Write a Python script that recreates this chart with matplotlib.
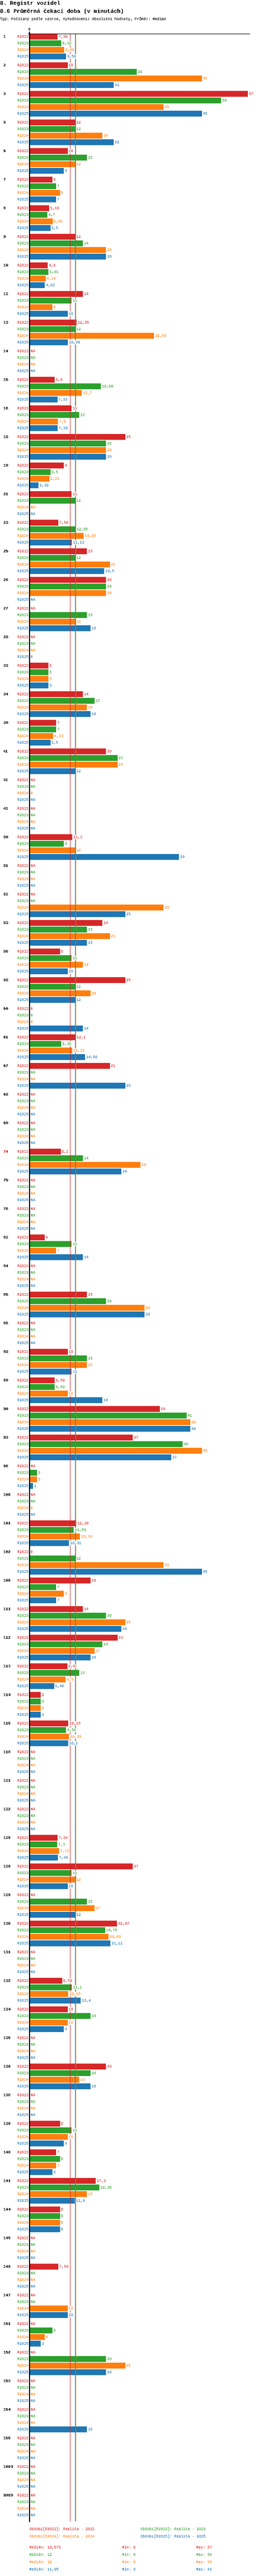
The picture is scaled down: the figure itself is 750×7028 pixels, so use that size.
import matplotlib
matplotlib.use("Agg")
import matplotlib.pyplot as plt
import numpy as np

plt.rcParams['font.family'] = ['Liberation Mono', 'DejaVu Sans Mono']
plt.rcParams['text.antialiased'] = False

NA = None

# Kategorie (skupiny)
kategorie = ["1", "2", "3", "5", "6", "7", "8", "9", "10", "12",
             "13", "14", "15", "16", "18", "19", "21", "23", "25", "26",
             "27", "28", "33", "34", "39", "41", "42", "43", "50", "51",
             "52", "53", "56", "58", "60", "61", "67", "68", "69", "74",
             "75", "76", "82", "84", "85", "86", "88", "89", "90", "93",
             "96", "100", "101", "102", "106", "111", "112", "113", "114", "115",
             "118", "121", "122", "125", "126", "129", "130", "131", "132", "134",
             "135", "136", "138", "139", "140", "141", "144", "145", "146", "147",
             "151", "152", "153", "154", "155", "1000", "9999"]

r2022 = [7.36, 10, 57, 12, 10, 6, 5.16, 12, 4.8, 14,
         12.35, NA, 6.6, 11, 25, 9, 11, 7.58, 15, 20,
         NA, NA, 5, 14, 7, 20, NA, NA, 11.2, NA,
         NA, 19, 8, 25, 0, 12.1, 21, NA, NA, 8.2,
         NA, NA, 4, NA, 15, NA, 10, 6.59, 34, 27,
         NA, NA, 12.28, 0, 16, 14, 23, 9.9, 3, 10.15,
         NA, NA, NA, 7.34, 27, NA, 22.87, NA, 8.59, 10,
         NA, 20, NA, 8, 7, 17.3, 8, NA, 7.59, NA,
         NA, NA, NA, NA, NA, NA, NA]

r2023 = [8.32, 28, 50, 12, 15, 7, 4.7, 14, 5.01, 11,
         12, NA, 18.68, 13, 20, 5.5, 12, 12.05, 12, 20,
         15, NA, 5, 17, 7, 23, NA, NA, 9, NA,
         NA, 15, 11, 12, 0, 8.36, NA, NA, NA, 14,
         NA, NA, 11, NA, 20, NA, 15, 6.59, 41, 40,
         2, NA, 11.59, 12, 7, 20, 19, 13, 3, 9.58,
         NA, NA, NA, 7.3, 11, 15, 19.76, NA, 11.1, 16,
         NA, 16, NA, 11, 8, 18.26, 8, NA, NA, NA,
         6, 20, NA, NA, NA, NA, NA]

r2024 = [9.09, 45, 35, 19, 12, 8, 6.08, 20, 4.29, 6,
         32.53, NA, 13.7, 7.5, 20, 5.22, NA, 14.15, 21, 20,
         12, NA, 5, 15, 6.23, 23, 0, NA, 12, NA,
         35, 21, 14, 16, 0, 11.22, NA, NA, NA, 29,
         NA, NA, 7, NA, 30, NA, 15, 10, 42, 45,
         2, 0, 13.19, 35, 9, 25, 17, 9.5, 3, 10.33,
         NA, NA, NA, 7.72, 12, 17, 20.69, NA, 10.15, 10,
         NA, 13, NA, 10, 7, 15, 8, NA, NA, 10,
         4, 25, NA, NA, NA, NA, NA]

r2025 = [9.58, 22, 45, 22, 9, 7, 5.5, 20, 4.02, 10,
         10.08, NA, 7.33, 7.39, 20, 2.39, NA, 11.13, 19.5, NA,
         16, 0, 5, 16, 5.5, 12, NA, NA, 39, NA,
         25, 15, 10, 12, 14, 14.56, 25, NA, NA, 24,
         NA, NA, 14, NA, 30, NA, 11, 19, 42, 37,
         1, NA, 10.31, 45, 7, 24, 16, 6.46, 3, 10.1,
         NA, NA, NA, 7.49, 10, 12, 21.11, NA, 13.4, 9,
         NA, 16, NA, 9, 6, 11.9, 8, NA, NA, 10,
         3, 20, NA, 15, NA, NA, NA]

obdobi = ["R2022", "R2023", "R2024", "R2025"]
popisy = ["Realita - 2022", "Realita - 2023", "Realita - 2024", "Realita - 2025"]
barvy = ["#d62728", "#2ca02c", "#ff7f0e", "#1f77b4"]
zvyraznene = ["74"]

serie = [r2022, r2023, r2024, r2025]


def fmt(v):
    return f"{round(v, 3):g}".replace(".", ",")


W, H = 750, 7028
fig = plt.figure(figsize=(W / 100, H / 100), dpi=100)

# oblast grafu v pixelech
x0, x1 = 80, 681
y0, y1 = 92, 6879
ax = fig.add_axes([x0 / W, 1 - y1 / H, (x1 - x0) / W, (y1 - y0) / H])
xmax = 57.45
ax.set_xlim(0, xmax)
ax.set_ylim(y1 - y0, 0)

skupina = 78
krok = 18
vyska = 16
male = 7.3

for i, kat in enumerate(kategorie):
    yc = 8 + i * skupina
    barva_kat = "#ff0000" if kat in zvyraznene else "black"
    ax.annotate(kat, xy=(9 / W, yc), xycoords=("figure fraction", "data"),
                ha="left", va="center", fontsize=8, fontweight="bold", color=barva_kat)
    for j, s in enumerate(serie):
        y = yc + j * krok
        v = s[i]
        ax.annotate(obdobi[j], xy=(0, y), xycoords=("axes fraction", "data"),
                    xytext=(-2, 0), textcoords="offset pixels",
                    ha="right", va="center", fontsize=male, color=barvy[j])
        if v is None:
            ax.annotate("NA", xy=(0, y), xytext=(4, 0), textcoords="offset pixels",
                        ha="left", va="center", fontsize=male, color=barvy[j], zorder=5)
        else:
            ax.barh(y, v, height=vyska, color=barvy[j], zorder=2)
            ax.annotate(fmt(v), xy=(v, y), xytext=(3, 0), textcoords="offset pixels",
                        ha="left", va="center", fontsize=male, color=barvy[j], zorder=5,
                        bbox=dict(facecolor="white", edgecolor="none", pad=0.6))

# medianove cary
mediany = []
for j, s in enumerate(serie):
    hodnoty = np.array([v for v in s if v is not None], dtype=float)
    mediany.append((np.median(hodnoty), hodnoty.min(), hodnoty.max()))
    ax.axvline(mediany[-1][0], color=barvy[j], lw=1, zorder=3)

# osy
for sp in ["right", "bottom", "top"]:
    ax.spines[sp].set_visible(False)
ax.plot([-0.4, xmax], [0, 0], color="black", lw=1, clip_on=False, zorder=4)
ax.spines["left"].set_linewidth(2)
ax.spines["left"].set_zorder(4)
ax.xaxis.tick_top()
ax.set_xticks([0])
ax.set_xticklabels(["0"])
ax.tick_params(axis="x", length=4, width=2, pad=1, labelsize=male)
ax.set_yticks([])

# nadpisy
fig.text(0, 1 - 9 / H, "8. Registr vozidel", fontsize=10.9, fontweight="bold",
         va="center", ha="left")
fig.text(0, 1 - 31 / H, "8.6 Průměrná čekací doba (v minutách)", fontsize=10.9,
         fontweight="bold", va="center", ha="left")
fig.text(0, 1 - 52 / H, "Typ: Počítaný podle vzorce, Vyhodnocení: Absolutní hodnoty, Průměr: Medián",
         fontsize=male, va="center", ha="left")

# legenda
leg_pos = [(80, 6900), (383, 6900), (80, 6920), (383, 6920)]
for j in range(4):
    x, y = leg_pos[j]
    fig.text(x / W, 1 - y / H, f"Období[{obdobi[j]}]: {popisy[j]}", fontsize=male,
             color=barvy[j], va="center", ha="left")

# statistiky
for j in range(4):
    y = 6950 + j * 20
    med, mn, mx = mediany[j]
    fig.text(80 / W, 1 - y / H, f"Medián: {fmt(med)}", fontsize=male, color=barvy[j], va="center")
    fig.text(333 / W, 1 - y / H, f"Min: {fmt(mn)}", fontsize=male, color=barvy[j], va="center")
    fig.text(535 / W, 1 - y / H, f"Max: {fmt(mx)}", fontsize=male, color=barvy[j], va="center")

fig.savefig("out.png", dpi=100)
